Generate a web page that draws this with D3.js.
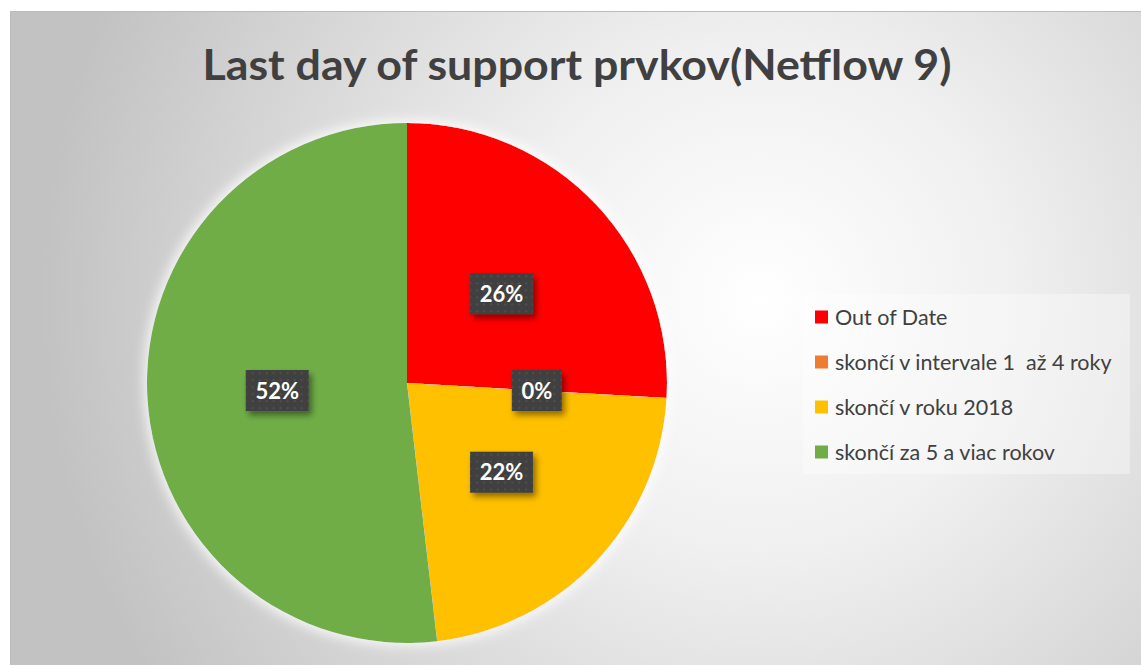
<!DOCTYPE html>
<html>
<head>
<meta charset="utf-8">
<script src="https://cdn.jsdelivr.net/npm/d3@7"></script>
<style>
  html, body { margin: 0; padding: 0; background: #fff; }
  svg { display: block; }
</style>
</head>
<body>
<div id="chart"></div>
<script>
var width = 1141
var height = 665

// data (counts estimated so that the shares round to 26/0/22/52 %)
var categories = ["Out of Date", "skončí v intervale 1  až 4 roky", "skončí v roku 2018", "skončí za 5 a viac rokov"]
var values = [70, 0, 60, 140]
var colors = ["#ff0000", "#ed7d31", "#ffc000", "#70ad47"]
var title = "Last day of support prvkov(Netflow 9)"

var svg = d3.select("#chart").append("svg")
    .attr("width", width)
    .attr("height", height);

var defs = svg.append("defs");

// chart area background
var bg = defs.append("radialGradient")
    .attr("id", "bggrad")
    .attr("gradientUnits", "userSpaceOnUse")
    .attr("cx", 760).attr("cy", 300).attr("r", 720)
    .attr("fx", 760).attr("fy", 300);
bg.append("stop").attr("offset", "0%").attr("stop-color", "#ffffff");
bg.append("stop").attr("offset", "35%").attr("stop-color", "#f0f0f0");
bg.append("stop").attr("offset", "100%").attr("stop-color", "#c2c2c2");

// dotted pattern for the data label boxes
var pat = defs.append("pattern")
    .attr("id", "dots")
    .attr("patternUnits", "userSpaceOnUse")
    .attr("width", 7).attr("height", 7);
pat.append("rect").attr("width", 7).attr("height", 7).attr("fill", "#3f3f3f");
pat.append("circle").attr("cx", 3.5).attr("cy", 3.5).attr("r", 1.1).attr("fill", "#555555");

var shadow = defs.append("filter").attr("id", "shadow")
    .attr("x", "-30%").attr("y", "-30%").attr("width", "170%").attr("height", "170%");
shadow.append("feDropShadow")
    .attr("dx", 3).attr("dy", 4).attr("stdDeviation", 3)
    .attr("flood-color", "#000").attr("flood-opacity", 0.45);

var glow = defs.append("filter").attr("id", "glow")
    .attr("x", "-20%").attr("y", "-20%").attr("width", "140%").attr("height", "140%");
glow.append("feMorphology").attr("in", "SourceAlpha").attr("operator", "dilate").attr("radius", 3).attr("result", "d");
glow.append("feGaussianBlur").attr("in", "d").attr("stdDeviation", 6).attr("result", "b");
glow.append("feFlood").attr("flood-color", "#ffffff").attr("flood-opacity", 0.8);
glow.append("feComposite").attr("in2", "b").attr("operator", "in").attr("result", "g");
var gm = glow.append("feMerge");
gm.append("feMergeNode").attr("in", "g");
gm.append("feMergeNode").attr("in", "SourceGraphic");

svg.append("rect")
    .attr("x", 10.5).attr("y", 11.5)
    .attr("width", width).attr("height", height)
    .attr("fill", "url(#bggrad)")
    .attr("stroke", "#bcbcbc")
    .attr("stroke-width", 1);

// title
svg.append("text")
    .text(title)
    .attr("x", 577)
    .attr("y", 80)
    .attr("text-anchor", "middle")
    .attr("font-family", "Lato, 'Open Sans', sans-serif")
    .attr("font-weight", "bold")
    .attr("font-size", "42px")
    .attr("textLength", 749)
    .attr("lengthAdjust", "spacingAndGlyphs")
    .attr("fill", "#404040");

// pie
var cx = 407, cy = 383, radius = 260;
var total = d3.sum(values);
var pie = d3.pie().sort(null).value(function(d) { return d; });
var arcs = pie(values);
var arc = d3.arc().innerRadius(0).outerRadius(radius);

var pieg = svg.append("g")
    .attr("transform", "translate(" + cx + "," + cy + ")");

var slices = pieg.append("g").attr("filter", "url(#glow)");
slices.selectAll("path")
    .data(arcs)
    .enter().append("path")
    .attr("d", arc)
    .attr("fill", function(d, i) { return colors[i]; })
    .attr("stroke", "none");

var fmt = d3.format(".0%");
var labels = pieg.selectAll(".lbl")
    .data(arcs)
    .enter().append("g")
    .attr("class", "lbl")
    .attr("transform", function(d) { var c = arc.centroid(d); return "translate(" + c[0] + "," + c[1] + ")"; });

labels.append("rect")
    .attr("x", function(d) { return fmt(d.value / total).length > 2 ? -31.5 : -25; })
    .attr("y", -20.5)
    .attr("width", function(d) { return fmt(d.value / total).length > 2 ? 63 : 50; })
    .attr("height", 41)
    .attr("fill", "url(#dots)")
    .attr("filter", "url(#shadow)");

labels.append("text")
    .text(function(d) { return fmt(d.value / total); })
    .attr("y", 8)
    .attr("text-anchor", "middle")
    .attr("font-family", "Lato, 'Open Sans', sans-serif")
    .attr("font-weight", "bold")
    .attr("font-size", "22px")
    .attr("fill", "#ffffff");

// legend
var legend = svg.append("g").attr("transform", "translate(803,294)");
legend.append("rect")
    .attr("width", 327).attr("height", 180)
    .attr("fill", "#ffffff").attr("fill-opacity", 0.35);

var rows = legend.selectAll(".row")
    .data(categories)
    .enter().append("g")
    .attr("class", "row")
    .attr("transform", function(d, i) { return "translate(12," + (23 + i * 45) + ")"; });

rows.append("rect")
    .attr("x", 0).attr("y", -6.5)
    .attr("width", 13).attr("height", 13)
    .attr("fill", function(d, i) { return colors[i]; });

rows.append("text")
    .text(function(d) { return d; })
    .attr("x", 20)
    .attr("y", 7.5)
    .attr("font-family", "Lato, 'Open Sans', sans-serif")
    .attr("font-size", "21.5px")
    .attr("fill", "#404040")
    .style("white-space", "pre");
</script>
</body>
</html>
